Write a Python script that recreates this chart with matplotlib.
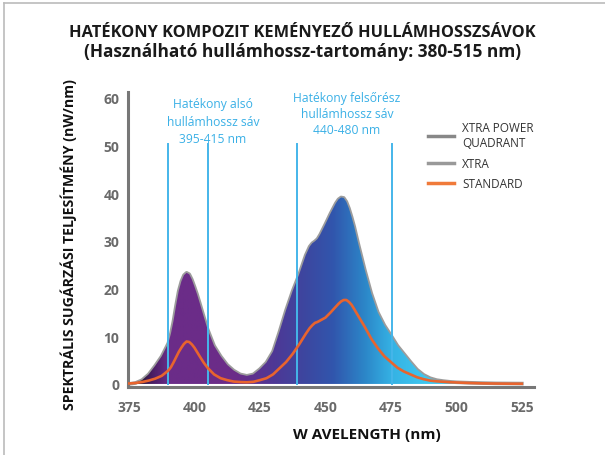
import numpy as np
import matplotlib
matplotlib.use("Agg")
import matplotlib.pyplot as plt
from matplotlib.colors import LinearSegmentedColormap
from matplotlib.lines import Line2D

# wavelength grid (nm), denser around the peaks
wavelength = [375, 377.5, 380, 382.5, 385, 387.5, 390, 391, 392, 393,
              394, 395, 396, 397, 398, 399, 400, 401, 402, 403.5,
              405, 407.5, 410, 412.5, 415, 417.5, 420, 422.5, 425, 427.5,
              430, 432.5, 435, 437.5, 440, 442.5, 444, 445, 446, 447,
              448, 450, 452, 454, 455, 456, 457, 458, 459, 460,
              461, 462.5, 465, 467.5, 470, 472.5, 475, 477.5, 480, 482.5,
              485, 487.5, 490, 492.5, 495, 497.5, 500, 505, 510, 515,
              520, 525]

power_quadrant = [0.0, 0.2, 0.8, 2.0, 3.8, 5.8, 8.5, 10.5, 13.2, 16.5,
                  19.5, 21.5, 22.8, 23.3, 23.0, 21.9, 20.4, 18.8, 17.0, 14.2,
                  11.5, 8.0, 5.8, 4.0, 2.8, 2.0, 1.7, 2.0, 3.1, 4.5,
                  6.8, 11.0, 15.5, 19.5, 23.0, 27.0, 28.8, 29.5, 29.9, 30.4,
                  31.3, 33.5, 35.8, 37.9, 38.7, 39.1, 39.0, 38.2, 36.8, 35.0,
                  33.0, 29.5, 24.0, 19.0, 15.0, 12.3, 10.2, 8.0, 6.3, 4.6,
                  3.0, 1.9, 1.2, 0.8, 0.6, 0.45, 0.35, 0.25, 0.18, 0.12,
                  0.1, 0.08]

standard = [0.1, 0.2, 0.4, 0.7, 1.1, 1.7, 2.8, 3.5, 4.5, 5.6,
            6.7, 7.6, 8.4, 8.9, 8.8, 8.3, 7.6, 6.7, 5.8, 4.5,
            3.4, 2.0, 1.2, 0.8, 0.5, 0.4, 0.35, 0.45, 0.8, 1.2,
            2.0, 3.3, 4.6, 6.3, 8.3, 10.5, 11.7, 12.3, 12.8, 13.0,
            13.3, 13.9, 15.0, 16.2, 16.8, 17.3, 17.6, 17.6, 17.2, 16.6,
            15.7, 14.3, 12.0, 9.5, 7.5, 5.8, 4.6, 3.4, 2.6, 2.0,
            1.4, 1.0, 0.7, 0.55, 0.45, 0.35, 0.3, 0.2, 0.12, 0.08,
            0.05, 0.04]

band_lines = [390, 405, 439, 475.5]
x_ticks = [375, 400, 425, 450, 475, 500, 525]
y_ticks = [0, 10, 20, 30, 40, 50, 60]

fig = plt.figure(figsize=(6.05, 4.56), dpi=100)
ax = fig.add_axes([0.211, 0.1485, 0.671, 0.6485])

x = np.array(wavelength)
y = np.array(power_quadrant)

# soft dark outline around the filled spectrum
ax.plot(x, y, color="#3a3a3a", lw=2.6, alpha=0.5, zorder=2, solid_joinstyle="round")

# gradient fill clipped to the spectrum
grad = LinearSegmentedColormap.from_list("spec", [
    (0.0, "#111111"), (0.06, "#4a1e66"), (0.10, "#6b2c88"), (0.27, "#6b2c88"),
    (0.37, "#4e3896"), (0.45, "#3c47a0"), (0.52, "#3156ad"), (0.60, "#2c86c8"),
    (0.67, "#35b2e4"), (0.75, "#3ec6ef"), (1.0, "#40c9f0")])
poly = ax.fill_between(x, 0, y, color="none", zorder=3)
img = ax.imshow(np.linspace(0, 1, 256).reshape(1, -1), cmap=grad, aspect="auto",
                extent=[375, 525, 0, 45], origin="lower", zorder=3)
img.set_clip_path(poly.get_paths()[0], transform=ax.transData)

for b in band_lines:
    ax.plot([b, b], [0, 50.3], color="#45b6ea", lw=1.4, zorder=4)

ax.plot(wavelength, standard, color="#e8642e", lw=1.9, zorder=5, solid_joinstyle="round")

ax.text(407, 55.1, "Hatékony alsó\nhullámhossz sáv\n395-415 nm", color="#3ab0e6",
        fontsize=8.7, family="Open Sans", ha="center", va="center", linespacing=1.45)
ax.text(458.2, 56.6, "Hatékony felsőrész\nhullámhossz sáv\n440-480 nm", color="#3ab0e6",
        fontsize=8.7, family="Open Sans", ha="center", va="center", linespacing=1.3)

ax.set_xlim(374.5, 529.5)
ax.set_ylim(-0.7, 61.3)
ax.set_xticks(x_ticks)
ax.set_yticks(y_ticks)
ax.tick_params(length=0, labelsize=10, labelcolor="#6a6a6a")
ax.tick_params(axis="x", pad=9)
ax.tick_params(axis="y", pad=6)
for lab in ax.get_xticklabels() + ax.get_yticklabels():
    lab.set_family("Open Sans")
    lab.set_weight("bold")
for s in ["top", "right"]:
    ax.spines[s].set_visible(False)
for s in ["left", "bottom"]:
    ax.spines[s].set_color("#777777")
    ax.spines[s].set_linewidth(2.2)

ax.set_xlabel("W AVELENGTH (nm)", fontsize=11, family="Open Sans", weight="bold",
              color="#111111")
ax.xaxis.set_label_coords((367 - 127.7) / 406, -0.135)
ax.set_ylabel("SPEKTRÁLIS SUGÁRZÁSI TELJESÍTMÉNY (nW/nm)", fontsize=10.2,
              family="Open Sans", weight="bold", color="#111111")
ax.yaxis.set_label_coords((77 - 127.7) / 406, 0.485)

fig.text(0.5, 1 - 33 / 456, "HATÉKONY KOMPOZIT KEMÉNYEZŐ HULLÁMHOSSZSÁVOK",
         ha="center", va="center", fontsize=11.8, family="Open Sans", weight="bold",
         color="#1a1a1a")
fig.text(0.5, 1 - 52 / 456, "(Használható hullámhossz-tartomány: 380-515 nm)",
         ha="center", va="center", fontsize=12.4, family="Open Sans", weight="bold",
         color="#1a1a1a")

handles = [Line2D([], [], color="#888888", lw=2.5),
           Line2D([], [], color="#999999", lw=2.5),
           Line2D([], [], color="#f07a3a", lw=2.5)]
labels = ["XTRA POWER\nQUADRANT", "XTRA", "STANDARD"]
leg = fig.legend(handles, labels, loc="upper left", bbox_to_anchor=(428 / 605, 1 - 122 / 456),
                 frameon=False, handlelength=2.2, handletextpad=0.7,
                 labelspacing=0.65, borderaxespad=0, borderpad=0,
                 prop={"family": "Open Sans", "size": 8.5})
for t in leg.get_texts():
    t.set_color("#333333")

# thin frame on top and left of the picture
fig.add_artist(Line2D([4 / 605, 1], [1 - 4 / 456, 1 - 4 / 456], color="#bbbbbb", lw=1.2))
fig.add_artist(Line2D([4 / 605, 4 / 605], [0, 1 - 4 / 456], color="#bbbbbb", lw=1.2))

fig.savefig("out.png", dpi=100, facecolor="white")
